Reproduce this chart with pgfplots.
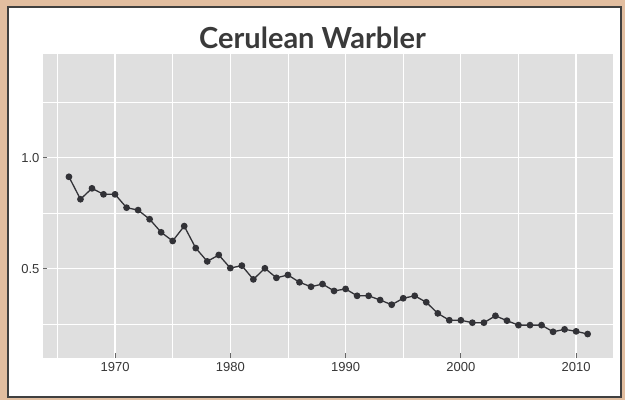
\documentclass[border=0pt]{standalone}
\usepackage{pgfplots}
\pgfplotsset{compat=1.18}
\usepackage{fontspec}
\setmainfont{Liberation Sans}
\newfontfamily\titlefont{Lato}
\definecolor{panel}{RGB}{223,223,223}
\definecolor{tan}{RGB}{226,190,160}
\definecolor{ticktext}{RGB}{55,55,55}
\definecolor{titlecol}{RGB}{58,58,58}
\definecolor{linecol}{RGB}{50,50,55}
\begin{document}
\begin{tikzpicture}[x=1pt,y=1pt]
\fill[tan] (0,0) rectangle (625,400);
\filldraw[fill=white, draw=black!75, line width=1.2pt] (8,3) rectangle (621,393);
\node[font=\titlefont\bfseries\fontsize{29}{34}\selectfont, text=titlecol] at (312.5,362) {Cerulean Warbler};
\begin{axis}[
  at={(43pt,42pt)}, anchor=south west,
  scale only axis, width=570pt, height=304pt,
  xmin=1963.75, xmax=2013.2,
  ymin=0.098, ymax=1.467,
  axis background/.style={fill=panel},
  axis line style={draw=none},
  tick pos=left,
  xtick={1970,1980,1990,2000,2010},
  xticklabels={1970,1980,1990,2000,2010},
  minor xtick={1965,1975,1985,1995,2005},
  ytick={0.5,1.0},
  yticklabels={0.5,1.0},
  minor ytick={0.25,0.75,1.25},
  grid=both,
  major grid style={white, line width=1.3pt},
  minor grid style={white, line width=0.6pt},
  major tick length=4.5pt,
  minor tick length=0pt,
  tick style={color=black!60, line width=0.8pt},
  every tick label/.append style={font=\fontsize{13}{15}\selectfont, text=ticktext},
  xticklabel style={yshift=-1pt},
  /pgf/number format/assume math mode=true,
  clip=false,
]
\addplot[color=linecol, line width=1.3pt, mark=*, mark size=2.7pt, mark options={fill=linecol, draw=linecol}] coordinates {
(1966,0.914) (1967,0.813) (1968,0.862) (1969,0.835) (1970,0.835)
(1971,0.775) (1972,0.764) (1973,0.723) (1974,0.664) (1975,0.625)
(1976,0.692) (1977,0.593) (1978,0.533) (1979,0.562) (1980,0.503)
(1981,0.514) (1982,0.452) (1983,0.502) (1984,0.459) (1985,0.472)
(1986,0.439) (1987,0.419) (1988,0.431) (1989,0.400) (1990,0.409)
(1991,0.378) (1992,0.378) (1993,0.359) (1994,0.338) (1995,0.367)
(1996,0.378) (1997,0.349) (1998,0.299) (1999,0.268) (2000,0.268)
(2001,0.257) (2002,0.257) (2003,0.288) (2004,0.266) (2005,0.246)
(2006,0.246) (2007,0.246) (2008,0.216) (2009,0.227) (2010,0.218)
(2011,0.206)
};
\end{axis}
\end{tikzpicture}
\end{document}
